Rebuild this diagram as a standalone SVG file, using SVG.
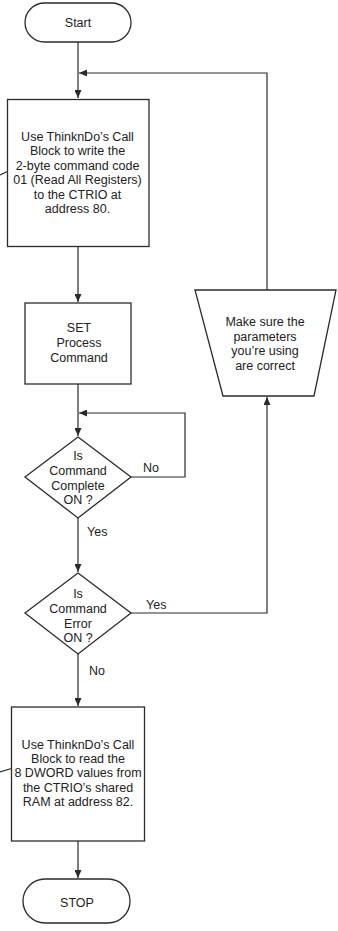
<svg xmlns="http://www.w3.org/2000/svg" width="338" height="931" viewBox="0 0 338 931">
<defs>
<style>
.s{fill:#fff;stroke:#2b2b2b;stroke-width:1.3}
.c{fill:none;stroke:#2b2b2b;stroke-width:1.2}
text{font-family:"Liberation Sans",Arial,sans-serif;font-size:12.5px;fill:#222;text-anchor:middle}
.l{text-anchor:start}
</style>
<marker id="ah" markerUnits="userSpaceOnUse" markerWidth="9" markerHeight="7" refX="8" refY="3.5" orient="auto">
<path d="M0,0 L8,3.5 L0,7 z" fill="#2b2b2b"/>
</marker>
</defs>
<rect width="338" height="931" fill="#fff"/>
<g id="connectors">
<path class="c" d="M78,42 V98" marker-end="url(#ah)"/>
<path class="c" d="M267,290 V73 H79" marker-end="url(#ah)"/>
<path class="c" d="M78,247 V302" marker-end="url(#ah)"/>
<path class="c" d="M78,384 V436" marker-end="url(#ah)"/>
<path class="c" d="M131,477 H185 V413 H79" marker-end="url(#ah)"/>
<path class="c" d="M78,518 V572" marker-end="url(#ah)"/>
<path class="c" d="M131,613 H267 V397" marker-end="url(#ah)"/>
<path class="c" d="M78,654 V706" marker-end="url(#ah)"/>
<path class="c" d="M78,841 V878" marker-end="url(#ah)"/>
<text class="l" x="143" y="472">No</text>
<text class="l" x="87" y="536">Yes</text>
<text class="l" x="146" y="609">Yes</text>
<text class="l" x="89" y="675">No</text>
</g>
<g id="start">
<rect class="s" x="25" y="3" width="106" height="39" rx="19.5"/>
<text x="78" y="27">Start</text>
</g>
<g id="write">
<rect class="s" x="7.5" y="99.5" width="141.5" height="147"/>
<path class="c" d="M0,175 L7.5,171.5"/>
<text x="77.5" y="141">Use ThinknDo’s Call</text>
<text x="77.5" y="155.4">Block to write the</text>
<text x="77.5" y="169.8">2-byte command code</text>
<text x="77.5" y="184.2">01 (Read All Registers)</text>
<text x="77.5" y="198.6">to the CTRIO at</text>
<text x="77.5" y="213">address 80.</text>
</g>
<g id="set">
<rect class="s" x="25" y="303" width="106" height="81"/>
<text x="79" y="332">SET</text>
<text x="79" y="347">Process</text>
<text x="79" y="362">Command</text>
</g>
<g id="complete">
<path class="s" d="M78,437 L131,477 L78,518 L25,477 Z"/>
<text x="78" y="460">Is</text>
<text x="78" y="475">Command</text>
<text x="78" y="489.5">Complete</text>
<text x="78" y="504">ON ?</text>
</g>
<g id="error">
<path class="s" d="M78,573 L131,613 L78,654 L25,613 Z"/>
<text x="78" y="598">Is</text>
<text x="78" y="613">Command</text>
<text x="78" y="627.5">Error</text>
<text x="78" y="642">ON ?</text>
</g>
<g id="check">
<path class="s" d="M195,290 L336,290 L314,396 L223,396 Z"/>
<text x="265" y="326">Make sure the</text>
<text x="265" y="340.5">parameters</text>
<text x="265" y="355">you’re using</text>
<text x="265" y="369.5">are correct</text>
</g>
<g id="read">
<rect class="s" x="11.5" y="707" width="133" height="134"/>
<path class="c" d="M0,772 L11.5,768.5"/>
<text x="78" y="748.5">Use ThinknDo’s Call</text>
<text x="78" y="762.9">Block to read the</text>
<text x="78" y="777.3">8 DWORD values from</text>
<text x="78" y="791.7">the CTRIO’s shared</text>
<text x="78" y="806.1">RAM at address 82.</text>
</g>
<g id="stop">
<rect class="s" x="23" y="879" width="107" height="44" rx="22"/>
<text x="77" y="907">STOP</text>
</g>
</svg>
